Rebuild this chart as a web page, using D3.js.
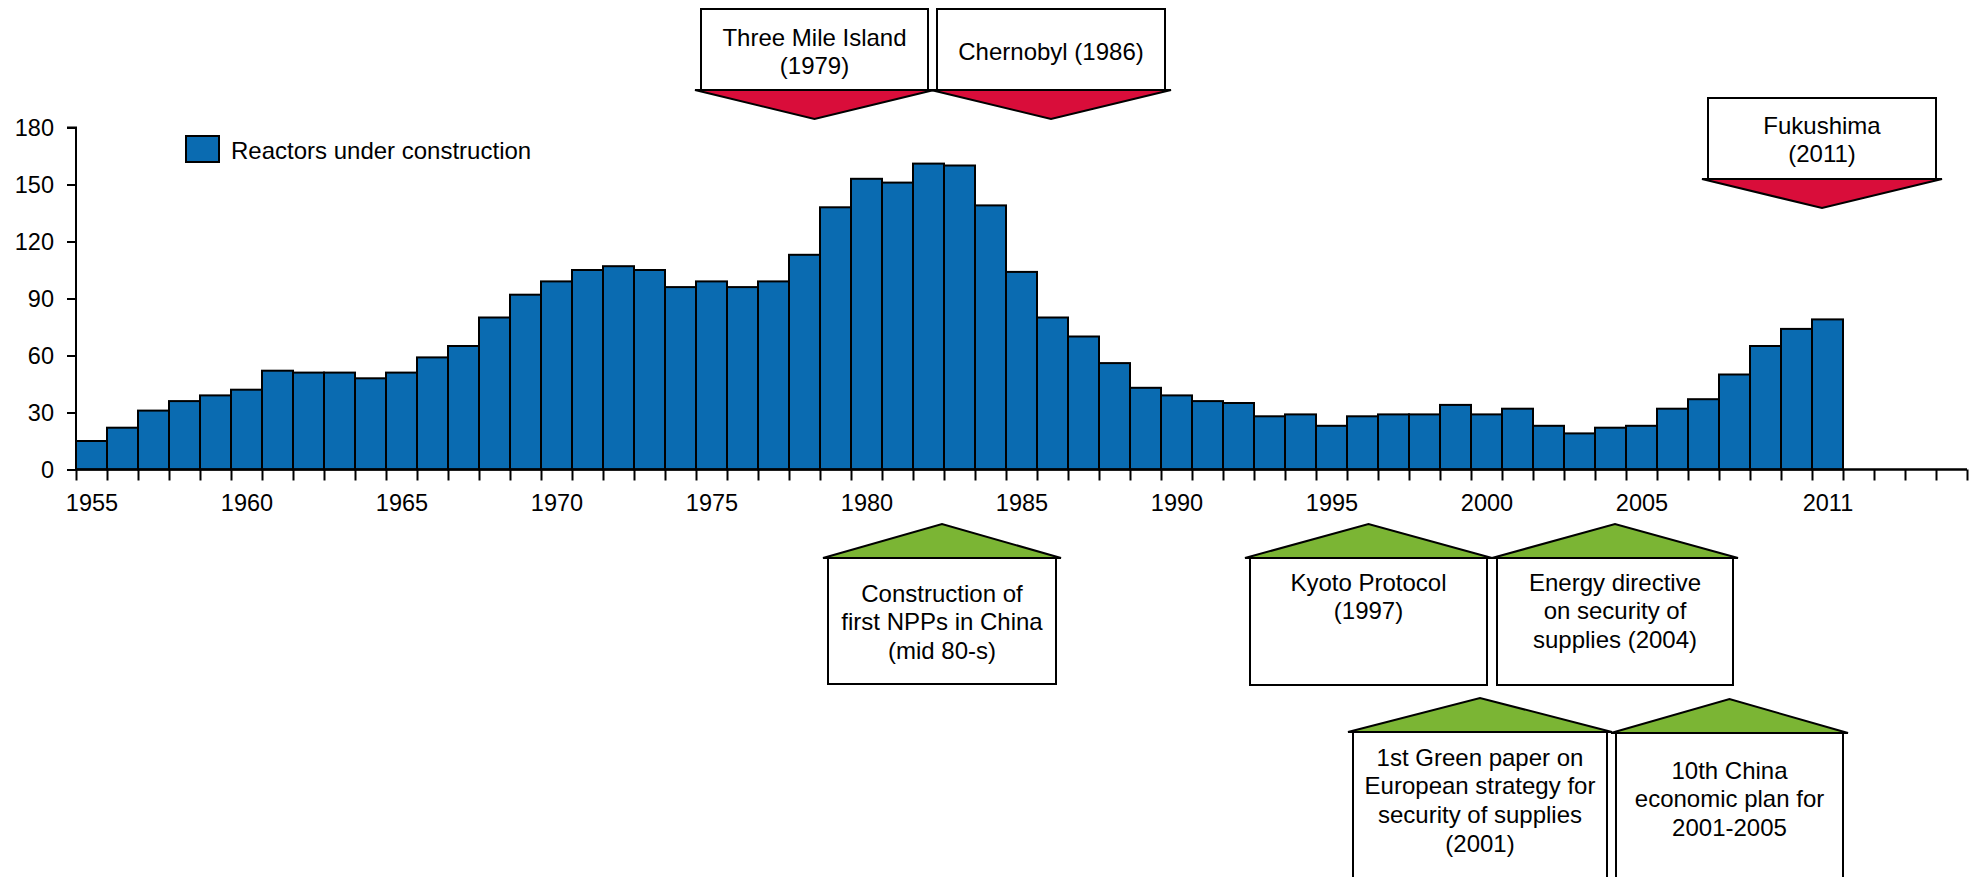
<!DOCTYPE html>
<html>
<head>
<meta charset="utf-8">
<script src="https://cdn.jsdelivr.net/npm/d3@7"></script>
<style>
  html, body { margin: 0; padding: 0; background: #fff; }
  svg { display: block; font-family: "Liberation Sans", Arial, sans-serif; }
</style>
</head>
<body>
<svg id="chart" width="1976" height="877"></svg>
<script>
// ---- data ----
const years = [1955,1956,1957,1958,1959,1960,1961,1962,1963,1964,1965,1966,1967,1968,1969,
  1970,1971,1972,1973,1974,1975,1976,1977,1978,1979,1980,1981,1982,1983,1984,1985,1986,1987,
  1988,1989,1990,1991,1992,1993,1994,1995,1996,1997,1998,1999,2000,2001,2002,2003,2004,2005,
  2006,2007,2008,2009,2010,2011];
const reactors = [15,22,31,36,39,42,52,51,51,48,51,59,65,80,92,
  99,105,107,105,96,99,96,99,113,138,153,151,161,160,139,104,80,70,
  56,43,39,36,35,28,29,23,28,29,29,34,29,32,23,19,22,23,
  32,37,50,65,74,79];
const axisYears = [1955,2015];               // x-axis extends through 2015
const xTickLabels = [1955,1960,1965,1970,1975,1980,1985,1990,1995,2000,2005,2011];
const yTicks = [0,30,60,90,120,150,180];
const seriesName = "Reactors under construction";

const negativeEvents = [
  { lines: ["Three Mile Island", "(1979)"] },
  { lines: ["Chernobyl (1986)"] },
  { lines: ["Fukushima", "(2011)"] }
];
const positiveEvents = [
  { lines: ["Construction of", "first NPPs in China", "(mid 80-s)"] },
  { lines: ["Kyoto Protocol", "(1997)"] },
  { lines: ["Energy directive", "on security of", "supplies (2004)"] },
  { lines: ["1st Green paper on", "European strategy for", "security of supplies", "(2001)"] },
  { lines: ["10th China", "economic plan for", "2001-2005"] }
];

// ---- layout (annotation box placement, pixels) ----
const negLayout = [
  { x0: 701, x1: 928, y0: 9, y1: 90, ty: 37 },
  { x0: 937, x1: 1165, y0: 9, y1: 90, ty: 51 },
  { x0: 1708, x1: 1936, y0: 98, y1: 179, ty: 125 }
];
const posLayout = [
  { x0: 828, x1: 1056, y0: 558, y1: 684, ty: 593 },
  { x0: 1250, x1: 1487, y0: 558, y1: 685, ty: 582 },
  { x0: 1497, x1: 1733, y0: 558, y1: 685, ty: 582 },
  { x0: 1353, x1: 1607, y0: 732, y1: 900, ty: 757 },
  { x0: 1616, x1: 1843, y0: 733, y1: 900, ty: 770 }
];

const BLUE = "#0a6bb1", RED = "#d90d3a", GREEN = "#7bb534";
const FS = 24;
const svg = d3.select("#chart");

const x = d3.scaleLinear().domain([axisYears[0], axisYears[1] + 1]).range([76, 1967]);
const y = d3.scaleLinear().domain([0, 180]).range([469.5, 127.5]);

// bars
svg.append("g").selectAll("rect").data(years).join("rect")
  .attr("x", d => x(d))
  .attr("width", d => x(d + 1) - x(d))
  .attr("y", (d, i) => y(reactors[i]))
  .attr("height", (d, i) => y(0) - y(reactors[i]))
  .attr("fill", BLUE)
  .attr("stroke", "#000")
  .attr("stroke-width", 2);

// y axis
const yAxis = svg.append("g").attr("transform", `translate(${x(axisYears[0])},0)`)
  .call(d3.axisLeft(y).tickValues(yTicks).tickSize(9).tickPadding(13));
yAxis.select(".domain").attr("stroke", "#000").attr("stroke-width", 2).attr("d", `M-9,${y(180)}H0V${y(0)}`);
yAxis.selectAll(".tick line").attr("stroke", "#000").attr("stroke-width", 2);
yAxis.selectAll(".tick text").attr("font-size", 23.5).attr("fill", "#000")
  .attr("font-family", "Liberation Sans, Arial, sans-serif");

// x axis: tick marks on year boundaries
const boundaryTicks = d3.range(axisYears[0], axisYears[1] + 2);
const xAxis = svg.append("g").attr("transform", `translate(0,${y(0)})`)
  .call(d3.axisBottom(x).tickValues(boundaryTicks).tickSize(11).tickFormat(""));
xAxis.select(".domain").attr("stroke", "#000").attr("stroke-width", 2.5).attr("d", `M${x(axisYears[0])},0H${x(axisYears[1] + 1)}`);
xAxis.selectAll(".tick line").attr("stroke", "#000").attr("stroke-width", 2);

// x labels centred on bars
const xLab = svg.append("g").attr("transform", `translate(0,${y(0)})`)
  .call(d3.axisBottom(x).tickValues(xTickLabels.map(v => v + 0.5)).tickSize(0).tickPadding(25)
    .tickFormat(d => String(Math.floor(d))));
xLab.select(".domain").remove();
xLab.selectAll(".tick text").attr("font-size", 23.5).attr("fill", "#000")
  .attr("font-family", "Liberation Sans, Arial, sans-serif");

// legend
const leg = svg.append("g");
leg.append("rect").attr("x", 186).attr("y", 136).attr("width", 33).attr("height", 26)
  .attr("fill", BLUE).attr("stroke", "#000").attr("stroke-width", 2);
leg.append("text").attr("x", 231).attr("y", 150).attr("dominant-baseline", "central")
  .attr("font-size", FS).attr("fill", "#000").text(seriesName);

// annotations
const LH = 28.7;
function drawBox(ev, L, up) {
  const g = svg.append("g");
  const cx = (L.x0 + L.x1) / 2;
  g.append("rect").attr("x", L.x0).attr("y", L.y0).attr("width", L.x1 - L.x0).attr("height", L.y1 - L.y0)
    .attr("fill", "#fff").attr("stroke", "#000").attr("stroke-width", 2);
  if (up) {
    g.append("path").attr("d", `M${L.x0 - 5},${L.y0}L${cx},${L.y0 - 34}L${L.x1 + 5},${L.y0}Z`)
      .attr("fill", GREEN).attr("stroke", "#000").attr("stroke-width", 2);
  } else {
    g.append("path").attr("d", `M${L.x0 - 6},${L.y1}L${cx},${L.y1 + 29}L${L.x1 + 6},${L.y1}Z`)
      .attr("fill", RED).attr("stroke", "#000").attr("stroke-width", 2);
  }
  g.selectAll("text").data(ev.lines).join("text")
    .attr("x", cx).attr("y", (d, i) => L.ty + i * LH)
    .attr("text-anchor", "middle").attr("dominant-baseline", "central")
    .attr("font-size", FS).attr("fill", "#000").text(d => d);
}
negativeEvents.forEach((ev, i) => drawBox(ev, negLayout[i], false));
positiveEvents.forEach((ev, i) => drawBox(ev, posLayout[i], true));
</script>
</body>
</html>
